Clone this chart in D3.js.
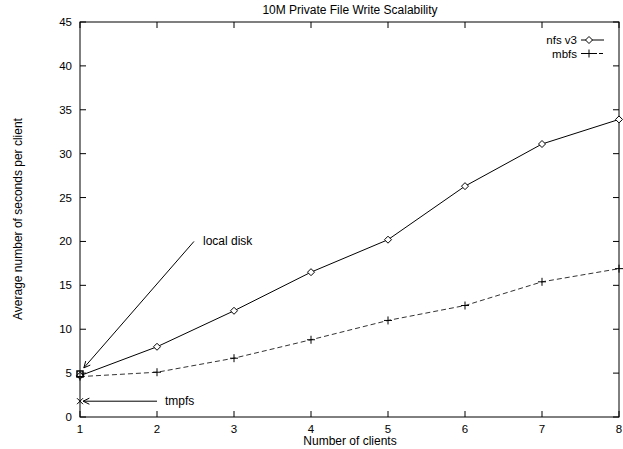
<!DOCTYPE html>
<html>
<head>
<meta charset="utf-8">
<script src="https://cdn.jsdelivr.net/npm/d3@7"></script>
<style>
  body { margin: 0; background: #fff; }
  text { font-family: "Liberation Sans", Arial, sans-serif; font-size: 12px; fill: #000; }
  text.tick { font-size: 11.5px; }
  text.key { font-size: 11.5px; }
</style>
</head>
<body>
<svg id="chart" width="623" height="449"></svg>
<script>
// data
var clients = [1, 2, 3, 4, 5, 6, 7, 8];
var nfsV3 = [4.7, 8.0, 12.1, 16.5, 20.2, 26.3, 31.1, 33.9];
var mbfs = [4.6, 5.1, 6.7, 8.8, 11.0, 12.7, 15.4, 16.9];
var yTicks = [0, 5, 10, 15, 20, 25, 30, 35, 40, 45];
var localDisk = {x: 1, y: 4.9};
var tmpfs = {x: 1, y: 1.8};

var svg = d3.select("#chart");

var xScale = d3.scaleLinear()
                .domain([1, 8])
                .range([80, 619]);

var yScale = d3.scaleLinear()
                .domain([0, 45])
                .range([417, 22]);

var tick = 6;

// frame
svg.append("rect")
    .attr("x", xScale(1))
    .attr("y", yScale(45))
    .attr("width", xScale(8) - xScale(1))
    .attr("height", yScale(0) - yScale(45))
    .style("fill", "none")
    .style("stroke", "black")
    .style("stroke-width", 1);

// x ticks, bottom and top (mirrored, inward)
clients.forEach(function(c)
{
    svg.append("line")
        .attr("x1", xScale(c)).attr("x2", xScale(c))
        .attr("y1", yScale(0)).attr("y2", yScale(0) - tick)
        .style("stroke", "black");
    svg.append("line")
        .attr("x1", xScale(c)).attr("x2", xScale(c))
        .attr("y1", yScale(45)).attr("y2", yScale(45) + tick)
        .style("stroke", "black");
    svg.append("text")
        .attr("class", "tick")
        .attr("x", xScale(c))
        .attr("y", yScale(0) + 16)
        .attr("text-anchor", "middle")
        .text(c);
});

// y ticks, left and right
yTicks.forEach(function(v)
{
    svg.append("line")
        .attr("x1", xScale(1)).attr("x2", xScale(1) + tick)
        .attr("y1", yScale(v)).attr("y2", yScale(v))
        .style("stroke", "black");
    svg.append("line")
        .attr("x1", xScale(8)).attr("x2", xScale(8) - tick)
        .attr("y1", yScale(v)).attr("y2", yScale(v))
        .style("stroke", "black");
    svg.append("text")
        .attr("class", "tick")
        .attr("x", xScale(1) - 8)
        .attr("y", yScale(v) + 4)
        .attr("text-anchor", "end")
        .text(v);
});

// titles
svg.append("text")
    .attr("x", 350).attr("y", 14)
    .attr("text-anchor", "middle")
    .text("10M Private File Write Scalability");

svg.append("text")
    .attr("x", 350).attr("y", 445)
    .attr("text-anchor", "middle")
    .text("Number of clients");

svg.append("text")
    .attr("transform", "translate(22," + 219 + ") rotate(-90)")
    .attr("text-anchor", "middle")
    .text("Average number of seconds per client");

var line = d3.line()
    .x(function(d, i){ return xScale(clients[i]); })
    .y(function(d){ return yScale(d); });

svg.append("path")
    .datum(nfsV3)
    .attr("d", line)
    .style("fill", "none")
    .style("stroke", "black")
    .style("stroke-width", 1);

svg.append("path")
    .datum(mbfs)
    .attr("d", line)
    .style("fill", "none")
    .style("stroke", "#333")
    .style("stroke-width", 1)
    .style("stroke-dasharray", "5,3");

var diamond = function(x, y)
{
    var s = 3.5;
    svg.append("path")
        .attr("d", "M" + x + "," + (y - s) + "L" + (x + s) + "," + y + "L" + x + "," + (y + s) + "L" + (x - s) + "," + y + "Z")
        .style("fill", "white")
        .style("stroke", "black");
}
var plus = function(x, y)
{
    svg.append("path")
        .attr("d", "M" + (x - 4) + "," + y + "H" + (x + 4) + "M" + x + "," + (y - 4) + "V" + (y + 4))
        .style("stroke", "black");
}

nfsV3.forEach(function(d, i){ diamond(xScale(clients[i]), yScale(d)); });
mbfs.forEach(function(d, i){ plus(xScale(clients[i]), yScale(d)); });

// local disk square and tmpfs cross
svg.append("rect")
    .attr("x", xScale(localDisk.x) - 3)
    .attr("y", yScale(localDisk.y) - 3)
    .attr("width", 6).attr("height", 6)
    .style("fill", "none")
    .style("stroke", "black")
    .style("stroke-width", 1.5);

svg.append("path")
    .attr("d", "M" + (xScale(tmpfs.x) - 3) + "," + (yScale(tmpfs.y) - 3) + "l6,6M" + (xScale(tmpfs.x) + 3) + "," + (yScale(tmpfs.y) - 3) + "l-6,6")
    .style("stroke", "black");

// arrows
var arrow = function(x1, y1, x2, y2)
{
    svg.append("line")
        .attr("x1", x1).attr("y1", y1)
        .attr("x2", x2).attr("y2", y2)
        .style("stroke", "black");
    var a = Math.atan2(y2 - y1, x2 - x1);
    var len = 7, spread = 0.45;
    svg.append("path")
        .attr("d", "M" + (x2 - len * Math.cos(a - spread)) + "," + (y2 - len * Math.sin(a - spread)) +
                   "L" + x2 + "," + y2 +
                   "L" + (x2 - len * Math.cos(a + spread)) + "," + (y2 - len * Math.sin(a + spread)))
        .style("fill", "none")
        .style("stroke", "black");
}

arrow(xScale(2.48), yScale(20), xScale(1.05), yScale(5.6));
arrow(xScale(2.0), yScale(1.8), xScale(1.04), yScale(1.8));

svg.append("text")
    .attr("x", 203).attr("y", yScale(20) + 4)
    .text("local disk");
svg.append("text")
    .attr("x", xScale(2.0) + 8).attr("y", yScale(1.8) + 4)
    .text("tmpfs");

// legend
var legend = [["nfs v3", "solid"], ["mbfs", "dash"]];
legend.forEach(function(l, i)
{
    var y = 40 + i * 13.5;
    svg.append("text")
        .attr("class", "key")
        .attr("x", 577).attr("y", y + 4)
        .attr("text-anchor", "end")
        .text(l[0]);
    svg.append("line")
        .attr("x1", 581).attr("x2", 604)
        .attr("y1", y).attr("y2", y)
        .style("stroke", "black")
        .style("stroke-dasharray", l[1] == "dash" ? "4,2" : null);
    if (l[1] == "dash") plus(589, y); else diamond(589, y);
});
</script>
</body>
</html>
